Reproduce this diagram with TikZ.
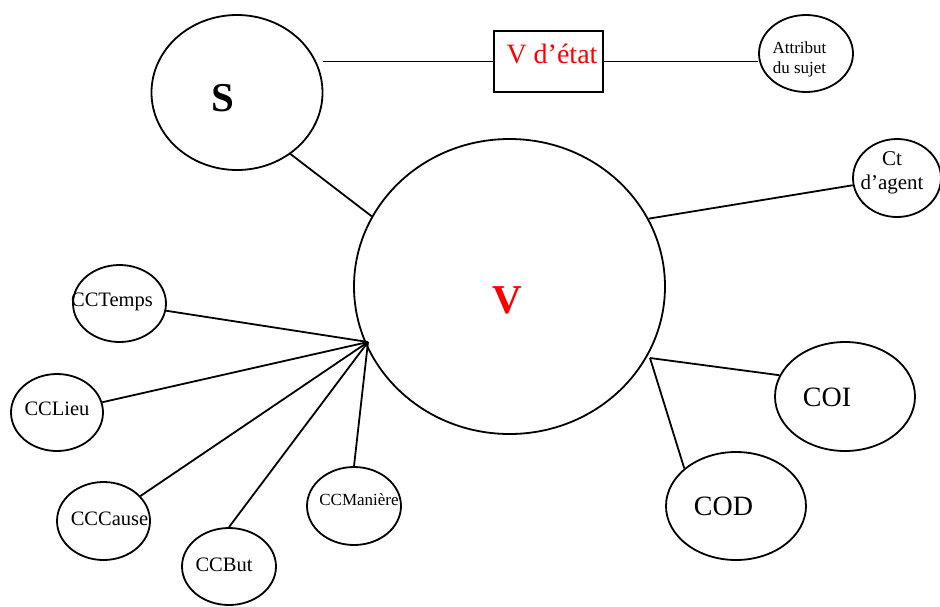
\documentclass[tikz,border=0pt]{standalone}
\usepackage{fontspec}
\setmainfont{Liberation Serif}
\usetikzlibrary{shapes.geometric}

\begin{document}
\begin{tikzpicture}[x=1pt,y=-1pt,
        bulle/.style={draw, ellipse, line width=1.8pt, inner sep=0pt},
        lien/.style={line width=1.8pt},
        txt/.style={anchor=base, inner sep=0pt}]
            \useasboundingbox (0,0) rectangle (940,606);
            % bulles
            \node[bulle, minimum width=171, minimum height=155] (S) at (237,92.5) {};
            \node[bulle, minimum width=311, minimum height=295] (V) at (509.5,286.5) {};
            \node[draw, line width=1.8pt, minimum width=109, minimum height=61, inner sep=0pt] (etat) at (548.5,61.5) {};
            \node[bulle, minimum width=94, minimum height=77] (attr) at (806,53.5) {};
            \node[bulle, minimum width=88, minimum height=78] (ct) at (897,178) {};
            \node[bulle, minimum width=93, minimum height=77] (cctemps) at (119.5,303.5) {};
            \node[bulle, minimum width=92, minimum height=77] (cclieu) at (57,412.5) {};
            \node[bulle, minimum width=93, minimum height=78] (cccause) at (103.5,521) {};
            \node[bulle, minimum width=94, minimum height=77] (ccbut) at (229,566.5) {};
            \node[bulle, minimum width=94, minimum height=78] (ccmaniere) at (354,506) {};
            \node[bulle, minimum width=140, minimum height=109] (coi) at (845,396.5) {};
            \node[bulle, minimum width=140, minimum height=108] (cod) at (736,506) {};
            % textes
            \node[txt, font=\fontsize{41}{44}\selectfont\bfseries] (S-t) at (223,111) {S};
            \node[txt, font=\fontsize{41}{44}\selectfont\bfseries, text=red] (V-t) at (507,313) {V};
            \node[txt, font=\fontsize{28}{32}\selectfont, text=red] (etat-t) at (552,63) {V d’état};
            \node[align=center, inner sep=0pt, font=\fontsize{17}{20}\selectfont] (attr-t) at (799.5,59) {Attribut\\du sujet};
            \node[align=center, inner sep=0pt, font=\fontsize{21}{24}\selectfont] (ct-t) at (892,173) {Ct\\d’agent};
            \node[txt, font=\fontsize{20.5}{24}\selectfont] (cctemps-t) at (112,306) {CCTemps};
            \node[txt, font=\fontsize{20.5}{24}\selectfont] (cclieu-t) at (57,415) {CCLieu};
            \node[txt, font=\fontsize{20.5}{24}\selectfont] (cccause-t) at (109.5,525) {CCCause};
            \node[txt, font=\fontsize{20.5}{24}\selectfont] (ccbut-t) at (224,571) {CCBut};
            \node[txt, font=\fontsize{17}{20}\selectfont] (ccmaniere-t) at (359,505) {CCManière};
            \node[txt, font=\fontsize{28}{32}\selectfont] (coi-t) at (827,406) {COI};
            \node[txt, font=\fontsize{28}{32}\selectfont] (cod-t) at (723.5,515) {COD};
            % liens
            \coordinate (hubCC) at (368,342);
            \coordinate (hubCO) at (650,358);
            \draw[lien] (S.-49) -- (V.153);
            \draw[lien] (etat.west -| S.east) -- (etat.west);
            \draw[lien] (etat.east) -- (etat.east -| attr.west);
            \draw[lien] (V.26) -- (ct);
            \draw[lien] (hubCC) -- (cctemps);
            \draw[lien] (hubCC) -- (cclieu);
            \draw[lien] (hubCC) -- (cccause);
            \draw[lien] (hubCC) -- (ccbut.north);
            \draw[lien] (hubCC) -- (ccmaniere.north);
            \draw[lien] (hubCO) -- (coi.162);
            \draw[lien] (hubCO) -- (cod.144);
        \end{tikzpicture}
\end{document}
